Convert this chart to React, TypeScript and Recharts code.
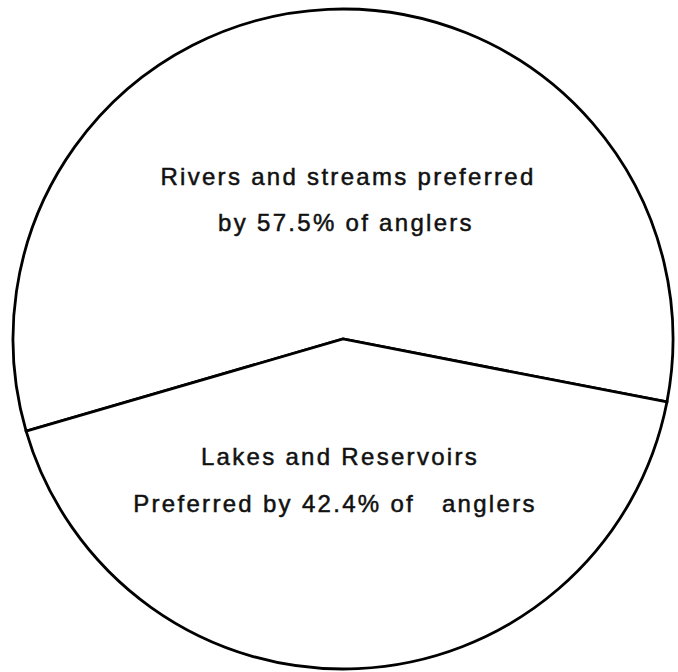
import React from 'react';
import { PieChart, Pie, Cell } from 'recharts';

const categories = ['Rivers and streams', 'Lakes and Reservoirs'];
const percents = [57.5, 42.4];
const labelLines = [
  ['Rivers and streams preferred', 'by 57.5% of anglers'],
  ['Lakes and Reservoirs', 'Preferred by 42.4% of   anglers'],
];

const data = categories.map((name, i) => ({ name, value: percents[i] }));

// offsets of each text line from the pie centre (dx, baseline dy)
const lineOffsets = [
  [[5, -154], [3, -108]],
  [[-3, 126], [-8, 173]],
];

const renderLabel = (props: any) => {
  const { cx, cy, index } = props;
  return (
    <g>
      {labelLines[index].map((line, j) => (
        <text
          key={j}
          x={cx + lineOffsets[index][j][0]}
          y={cy + lineOffsets[index][j][1]}
          textAnchor="middle"
          fill="#111"
          stroke="#111"
          strokeWidth={0.5}
          fontSize={24}
          letterSpacing={2.3}
          fontFamily="'Liberation Sans', Arial, sans-serif"
          style={{ whiteSpace: 'pre' }}
        >
          {line}
        </text>
      ))}
    </g>
  );
};

const App: React.FC = () => {
  return (
    <div style={{ position: 'absolute', left: 0, top: 0, background: '#fff' }}>
      <PieChart width={678} height={672} margin={{ top: 0, right: 0, bottom: 0, left: 0 }}>
        <Pie
          data={data}
          dataKey="value"
          nameKey="name"
          cx={343}
          cy={339}
          outerRadius={330}
          startAngle={-11}
          endAngle={349}
          stroke="#000"
          strokeWidth={2.8}
          label={renderLabel}
          labelLine={false}
          isAnimationActive={false}
        >
          {data.map((d) => (
            <Cell key={d.name} fill="#fff" />
          ))}
        </Pie>
      </PieChart>
    </div>
  );
};

export default App;
